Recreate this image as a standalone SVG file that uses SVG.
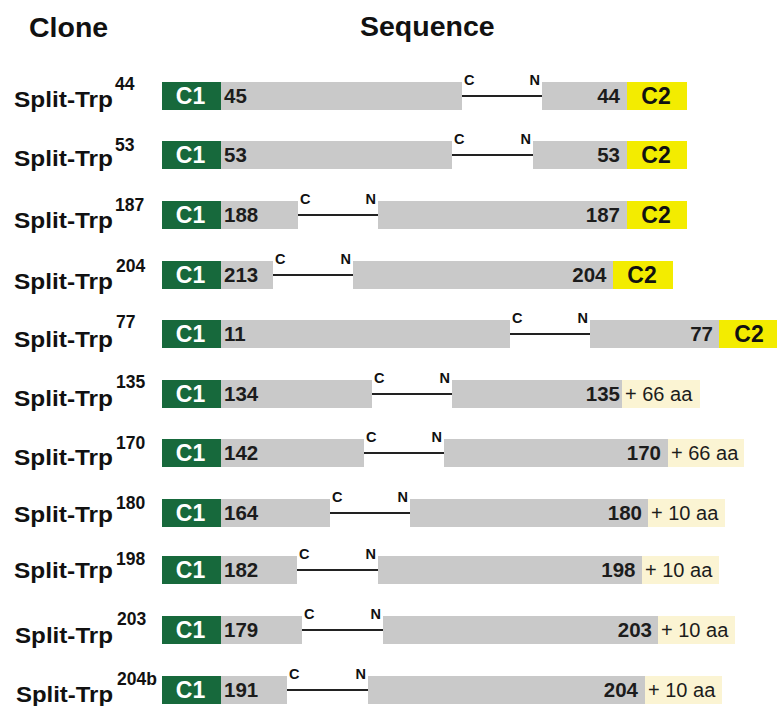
<svg xmlns="http://www.w3.org/2000/svg" width="777" height="706" viewBox="0 0 777 706">
  <style>
    text { font-family: "Liberation Sans", Arial, sans-serif; }
    .head { font-size: 28.5px; font-weight: bold; fill: #111; }
    .name { font-size: 22.5px; font-weight: bold; fill: #111; }
    .sup { font-size: 17.5px; font-weight: bold; fill: #111; }
    .c1 { fill: #17693c; }
    .c2 { fill: #f3ec00; }
    .seg { fill: #c9c9c9; }
    .ext { fill: #fbf4d3; }
    .c1t { font-size: 23px; font-weight: bold; fill: #fff; text-anchor: middle; }
    .c2t { font-size: 23px; font-weight: bold; fill: #111; text-anchor: middle; }
    .num { font-size: 20.5px; font-weight: bold; fill: #1c1c1c; }
    .numr { font-size: 20.5px; font-weight: bold; fill: #1c1c1c; text-anchor: end; }
    .aa { font-size: 20px; fill: #1c1c1c; }
    .term { font-size: 14.5px; font-weight: bold; fill: #111; }
    .termr { font-size: 14.5px; font-weight: bold; fill: #111; text-anchor: end; }
    .linker { stroke: #222; stroke-width: 2; fill: none; }
  </style>

  <!-- column headings -->
  <text class="head" x="29" y="36.5">Clone</text>
  <text class="head" x="360" y="36">Sequence</text>

  <!-- Split-Trp44 -->
  <g id="row-44">
    <text class="name" x="14" y="106.5" textLength="99" lengthAdjust="spacingAndGlyphs">Split-Trp</text>
    <text class="sup" x="115" y="90">44</text>
    <rect class="c1" x="162" y="82" width="59" height="28"/>
    <rect class="seg" x="221" y="82" width="241" height="28"/>
    <rect class="seg" x="542" y="82" width="85" height="28"/>
    <rect class="c2" x="627" y="82" width="60" height="28"/>
    <text class="c1t" x="190.5" y="103.5">C1</text>
    <text class="num" x="224" y="103">45</text>
    <text class="numr" x="620" y="103">44</text>
    <text class="c2t" x="656" y="103.5">C2</text>
    <text class="term" x="464" y="85">C</text>
    <text class="termr" x="540" y="85">N</text>
  </g>

  <!-- Split-Trp53 -->
  <g id="row-53">
    <text class="name" x="14" y="166" textLength="99" lengthAdjust="spacingAndGlyphs">Split-Trp</text>
    <text class="sup" x="115" y="151">53</text>
    <rect class="c1" x="162" y="141" width="59" height="28"/>
    <rect class="seg" x="221" y="141" width="231" height="28"/>
    <rect class="seg" x="533" y="141" width="94" height="28"/>
    <rect class="c2" x="627" y="141" width="60" height="28"/>
    <text class="c1t" x="190.5" y="162.5">C1</text>
    <text class="num" x="224" y="162">53</text>
    <text class="numr" x="620" y="162">53</text>
    <text class="c2t" x="656" y="162.5">C2</text>
    <text class="term" x="454" y="144">C</text>
    <text class="termr" x="531" y="144">N</text>
  </g>

  <!-- Split-Trp187 -->
  <g id="row-187">
    <text class="name" x="14" y="227.5" textLength="99" lengthAdjust="spacingAndGlyphs">Split-Trp</text>
    <text class="sup" x="115" y="210.5">187</text>
    <rect class="c1" x="162" y="201" width="59" height="28"/>
    <rect class="seg" x="221" y="201" width="77" height="28"/>
    <rect class="seg" x="378" y="201" width="249" height="28"/>
    <rect class="c2" x="627" y="201" width="60" height="28"/>
    <text class="c1t" x="190.5" y="222.5">C1</text>
    <text class="num" x="224" y="222">188</text>
    <text class="numr" x="620" y="222">187</text>
    <text class="c2t" x="656" y="222.5">C2</text>
    <text class="term" x="300" y="204">C</text>
    <text class="termr" x="376" y="204">N</text>
  </g>

  <!-- Split-Trp204 -->
  <g id="row-204">
    <text class="name" x="14" y="289" textLength="99" lengthAdjust="spacingAndGlyphs">Split-Trp</text>
    <text class="sup" x="116" y="271.5">204</text>
    <rect class="c1" x="162" y="261" width="59" height="28"/>
    <rect class="seg" x="221" y="261" width="52" height="28"/>
    <rect class="seg" x="353" y="261" width="260" height="28"/>
    <rect class="c2" x="613" y="261" width="60" height="28"/>
    <text class="c1t" x="190.5" y="282.5">C1</text>
    <text class="num" x="224" y="282">213</text>
    <text class="numr" x="606.5" y="282">204</text>
    <text class="c2t" x="642" y="282.5">C2</text>
    <text class="term" x="275" y="264">C</text>
    <text class="termr" x="351" y="264">N</text>
  </g>

  <!-- Split-Trp77 -->
  <g id="row-77">
    <text class="name" x="14" y="346.5" textLength="99" lengthAdjust="spacingAndGlyphs">Split-Trp</text>
    <text class="sup" x="116" y="328">77</text>
    <rect class="c1" x="162" y="320" width="59" height="28"/>
    <rect class="seg" x="221" y="320" width="289" height="28"/>
    <rect class="seg" x="590" y="320" width="129" height="28"/>
    <rect class="c2" x="719" y="320" width="58" height="28"/>
    <text class="c1t" x="190.5" y="341.5">C1</text>
    <text class="num" x="224" y="341">11</text>
    <text class="numr" x="713" y="341">77</text>
    <text class="c2t" x="749" y="341.5">C2</text>
    <text class="term" x="512" y="323">C</text>
    <text class="termr" x="588" y="323">N</text>
  </g>

  <!-- Split-Trp135 -->
  <g id="row-135">
    <text class="name" x="14" y="406" textLength="99" lengthAdjust="spacingAndGlyphs">Split-Trp</text>
    <text class="sup" x="116" y="388">135</text>
    <rect class="c1" x="162" y="380" width="59" height="28"/>
    <rect class="seg" x="221" y="380" width="151" height="28"/>
    <rect class="seg" x="452" y="380" width="170" height="28"/>
    <rect class="ext" x="622" y="380" width="78" height="28"/>
    <text class="c1t" x="190.5" y="401.5">C1</text>
    <text class="num" x="224" y="401">134</text>
    <text class="numr" x="620" y="401">135</text>
    <text class="aa" x="625" y="401">+ 66 aa</text>
    <text class="term" x="374" y="383">C</text>
    <text class="termr" x="450" y="383">N</text>
  </g>

  <!-- Split-Trp170 -->
  <g id="row-170">
    <text class="name" x="14" y="465" textLength="99" lengthAdjust="spacingAndGlyphs">Split-Trp</text>
    <text class="sup" x="116" y="448.5">170</text>
    <rect class="c1" x="162" y="439" width="59" height="28"/>
    <rect class="seg" x="221" y="439" width="143" height="28"/>
    <rect class="seg" x="444" y="439" width="224" height="28"/>
    <rect class="ext" x="668" y="439" width="76" height="28"/>
    <text class="c1t" x="190.5" y="460.5">C1</text>
    <text class="num" x="224" y="460">142</text>
    <text class="numr" x="661" y="460">170</text>
    <text class="aa" x="671" y="460">+ 66 aa</text>
    <text class="term" x="366" y="442">C</text>
    <text class="termr" x="442" y="442">N</text>
  </g>

  <!-- Split-Trp180 -->
  <g id="row-180">
    <text class="name" x="14" y="521.5" textLength="99" lengthAdjust="spacingAndGlyphs">Split-Trp</text>
    <text class="sup" x="116" y="508.5">180</text>
    <rect class="c1" x="162" y="499" width="59" height="28"/>
    <rect class="seg" x="221" y="499" width="109" height="28"/>
    <rect class="seg" x="410" y="499" width="238" height="28"/>
    <rect class="ext" x="648" y="499" width="77" height="28"/>
    <text class="c1t" x="190.5" y="520.5">C1</text>
    <text class="num" x="224" y="520">164</text>
    <text class="numr" x="642" y="520">180</text>
    <text class="aa" x="651" y="520">+ 10 aa</text>
    <text class="term" x="332" y="502">C</text>
    <text class="termr" x="408" y="502">N</text>
  </g>

  <!-- Split-Trp198 -->
  <g id="row-198">
    <text class="name" x="14" y="578" textLength="99" lengthAdjust="spacingAndGlyphs">Split-Trp</text>
    <text class="sup" x="116" y="565">198</text>
    <rect class="c1" x="162" y="556" width="59" height="28"/>
    <rect class="seg" x="221" y="556" width="76" height="28"/>
    <rect class="seg" x="378" y="556" width="264" height="28"/>
    <rect class="ext" x="642" y="556" width="77" height="28"/>
    <text class="c1t" x="190.5" y="577.5">C1</text>
    <text class="num" x="224" y="577">182</text>
    <text class="numr" x="635.5" y="577">198</text>
    <text class="aa" x="645" y="577">+ 10 aa</text>
    <text class="term" x="299" y="559">C</text>
    <text class="termr" x="376" y="559">N</text>
  </g>

  <!-- Split-Trp203 -->
  <g id="row-203">
    <text class="name" x="15" y="643" textLength="98" lengthAdjust="spacingAndGlyphs">Split-Trp</text>
    <text class="sup" x="117" y="625">203</text>
    <rect class="c1" x="162" y="616" width="59" height="28"/>
    <rect class="seg" x="221" y="616" width="81" height="28"/>
    <rect class="seg" x="383" y="616" width="275" height="28"/>
    <rect class="ext" x="658" y="616" width="77" height="28"/>
    <text class="c1t" x="190.5" y="637.5">C1</text>
    <text class="num" x="224" y="637">179</text>
    <text class="numr" x="652" y="637">203</text>
    <text class="aa" x="661" y="637">+ 10 aa</text>
    <text class="term" x="304" y="619">C</text>
    <text class="termr" x="381" y="619">N</text>
  </g>

  <!-- Split-Trp204b -->
  <g id="row-204b">
    <text class="name" x="16" y="702" textLength="97" lengthAdjust="spacingAndGlyphs">Split-Trp</text>
    <text class="sup" x="117" y="685">204b</text>
    <rect class="c1" x="162" y="676" width="59" height="28"/>
    <rect class="seg" x="221" y="676" width="66" height="28"/>
    <rect class="seg" x="368" y="676" width="277" height="28"/>
    <rect class="ext" x="645" y="676" width="77" height="28"/>
    <text class="c1t" x="190.5" y="697.5">C1</text>
    <text class="num" x="224" y="697">191</text>
    <text class="numr" x="638" y="697">204</text>
    <text class="aa" x="648" y="697">+ 10 aa</text>
    <text class="term" x="289" y="679">C</text>
    <text class="termr" x="366" y="679">N</text>
  </g>

  <!-- C-to-N linkers joining the two halves of each split -->
  <g id="linkers">
    <line class="linker" x1="462" y1="96" x2="542" y2="96"/>
    <line class="linker" x1="452" y1="155" x2="533" y2="155"/>
    <line class="linker" x1="298" y1="215" x2="378" y2="215"/>
    <line class="linker" x1="273" y1="275" x2="353" y2="275"/>
    <line class="linker" x1="510" y1="334" x2="590" y2="334"/>
    <line class="linker" x1="372" y1="394" x2="452" y2="394"/>
    <line class="linker" x1="364" y1="453" x2="444" y2="453"/>
    <line class="linker" x1="330" y1="513" x2="410" y2="513"/>
    <line class="linker" x1="297" y1="570" x2="378" y2="570"/>
    <line class="linker" x1="302" y1="630" x2="383" y2="630"/>
    <line class="linker" x1="287" y1="690" x2="368" y2="690"/>
  </g>
</svg>
